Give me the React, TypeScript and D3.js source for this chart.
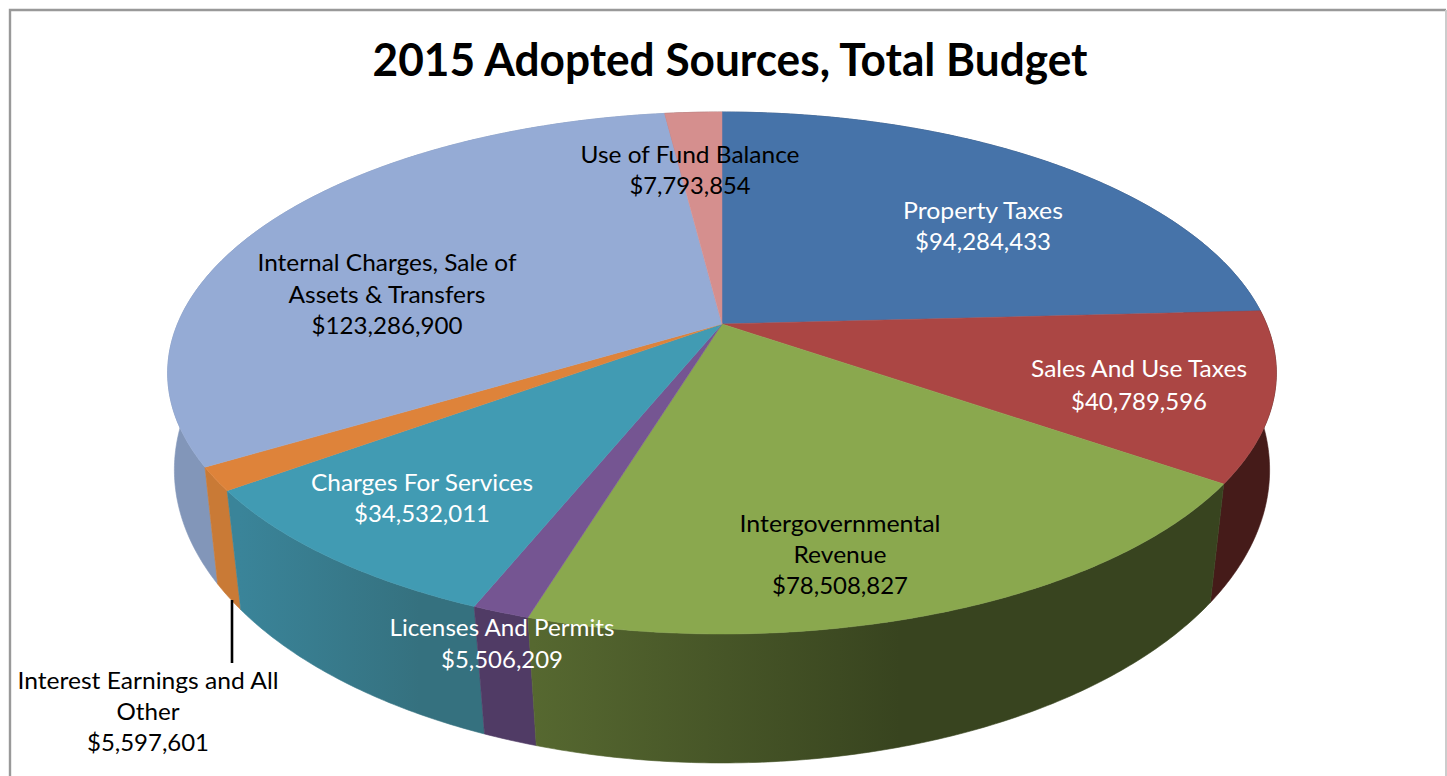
import React from "react";
import * as d3 from "d3";

const W = 1447;
const H = 776;

const titleText = "2015 Adopted Sources, Total Budget";
const categories = [
  "Property Taxes",
  "Sales And Use Taxes",
  "Intergovernmental Revenue",
  "Licenses And Permits",
  "Charges For Services",
  "Interest Earnings and All Other",
  "Internal Charges, Sale of Assets & Transfers",
  "Use of Fund Balance",
];
const values = [94284433, 40789596, 78508827, 5506209, 34532011, 5597601, 123286900, 7793854];
const labelLines = [
  ["Property Taxes"],
  ["Sales And Use Taxes"],
  ["Intergovernmental", "Revenue"],
  ["Licenses And Permits"],
  ["Charges For Services"],
  ["Interest Earnings and All", "Other"],
  ["Internal Charges, Sale of", "Assets & Transfers"],
  ["Use of Fund Balance"],
];

// styles
const topColors = ["#4673a9", "#ab4644", "#8aa84e", "#755592", "#419bb3", "#de833a", "#95abd5", "#d58f8e"];
const wallFrom = ["#2f4c72", "#451b19", "#566830", "#503b65", "#3a8499", "#c97a36", "#8296b9", "#8f5f5f"];
const wallTo = ["#2f4c72", "#451b19", "#38441f", "#503b65", "#35717f", "#c97a36", "#8296b9", "#8f5f5f"];
const wallRange: [number, number][] = [[0, 1], [0, 1], [533, 900], [0, 1], [240, 420], [0, 1], [0, 1], [0, 1]];
const labelColors = ["#fff", "#fff", "#000", "#fff", "#fff", "#000", "#000", "#000"];

// label layout: centre x, first baseline, line gap, widths per line (name lines, then amount)
const labelCx = [983, 1139, 840, 502, 422, 148, 387, 690];
const labelY = [219, 377, 532, 636, 491, 689, 271, 163];
const labelGap = [31, 33, 31, 32, 31, 31, 31.5, 31];
const labelWidths = [
  [160, 136],
  [216, 136],
  [201, 93, 136],
  [225, 122],
  [222, 136],
  [261, 63, 122],
  [259, 197, 151],
  [219, 121],
];

// perspective of the pie's top face and of its lower rim
const apexX = 722;
const topView = { y0: 324, persp: 0.1877, scaleU: 544.5, scaleV: 251.8 };
const rimView = { y0: 424.5, persp: 0.155, scaleU: 541, scaleV: 286 };

type Pt = [number, number];
type View = typeof topView;

function project(view: View, theta: number): Pt {
  const u = Math.sin(theta);
  const v = -Math.cos(theta);
  const d = 1 - view.persp * v;
  return [apexX + (view.scaleU * u) / d, view.y0 + (view.scaleV * v) / d];
}

function arcSamples(a0: number, a1: number): number[] {
  const n = Math.max(2, Math.ceil((a1 - a0) / 0.01));
  return d3.range(n + 1).map((i) => a0 + ((a1 - a0) * i) / n);
}

const linePath = d3.line<Pt>().x((d) => d[0]).y((d) => d[1]);
const fmt = d3.format("$,");

export default function App() {
  const arcs = d3
    .pie<number>()
    .sort(null)
    .startAngle(0)
    .endAngle(2 * Math.PI)
    .value((d) => d)(values);

  const wallOrder = arcs
    .map((a, i) => ({ a, i }))
    .sort((p, q) => {
      const m = (x: typeof p) => -Math.cos((x.a.startAngle + x.a.endAngle) / 2);
      return m(p) - m(q);
    });

  return (
    <svg
      width={W}
      height={H}
      viewBox={`0 0 ${W} ${H}`}
      style={{ position: "fixed", left: 0, top: 0, background: "#fff" }}
    >
      <defs>
        {arcs.map((_, i) => (
          <linearGradient
            key={i}
            id={`wall${i}`}
            gradientUnits="userSpaceOnUse"
            x1={wallRange[i][0]}
            x2={wallRange[i][1]}
            y1={0}
            y2={0}
          >
            <stop offset="0" stopColor={wallFrom[i]} />
            <stop offset="1" stopColor={wallTo[i]} />
          </linearGradient>
        ))}
      </defs>

      <path d="M10 776V10H1446" fill="none" stroke="#999" strokeWidth={2.4} />
      <line x1={1446} x2={1446} y1={10} y2={776} stroke="#ccc" strokeWidth={2} />

      {wallOrder.map(({ a, i }) => {
        const s = arcSamples(a.startAngle, a.endAngle);
        const pts: Pt[] = [
          ...s.map((t) => project(topView, t)),
          ...s.slice().reverse().map((t) => project(rimView, t)),
        ];
        return (
          <path
            key={i}
            d={linePath(pts) + "Z"}
            fill={`url(#wall${i})`}
            stroke={`url(#wall${i})`}
            strokeWidth={0.6}
          />
        );
      })}

      {arcs.map((a, i) => {
        const pts: Pt[] = [
          [apexX, topView.y0],
          ...arcSamples(a.startAngle, a.endAngle).map((t) => project(topView, t)),
        ];
        return (
          <path
            key={categories[i]}
            d={linePath(pts) + "Z"}
            fill={topColors[i]}
            stroke={topColors[i]}
            strokeWidth={0.5}
          />
        );
      })}

      <line x1={232} x2={232} y1={600} y2={663} stroke="#000" strokeWidth={2.6} />

      <text
        x={730}
        y={76}
        textAnchor="middle"
        textLength={715}
        lengthAdjust="spacingAndGlyphs"
        fontFamily="Lato, sans-serif"
        fontWeight={700}
        fontSize={46}
        fill="#000"
      >
        {titleText}
      </text>

      {values.map((v, i) => {
        const lines = [...labelLines[i], fmt(v)];
        return (
          <g key={categories[i]} fill={labelColors[i]} fontFamily="Lato, sans-serif" fontSize={24} textAnchor="middle">
            {lines.map((t, j) => (
              <text
                key={j}
                x={labelCx[i]}
                y={labelY[i] + j * labelGap[i]}
                textLength={labelWidths[i][j]}
                lengthAdjust="spacingAndGlyphs"
              >
                {t}
              </text>
            ))}
          </g>
        );
      })}
    </svg>
  );
}
